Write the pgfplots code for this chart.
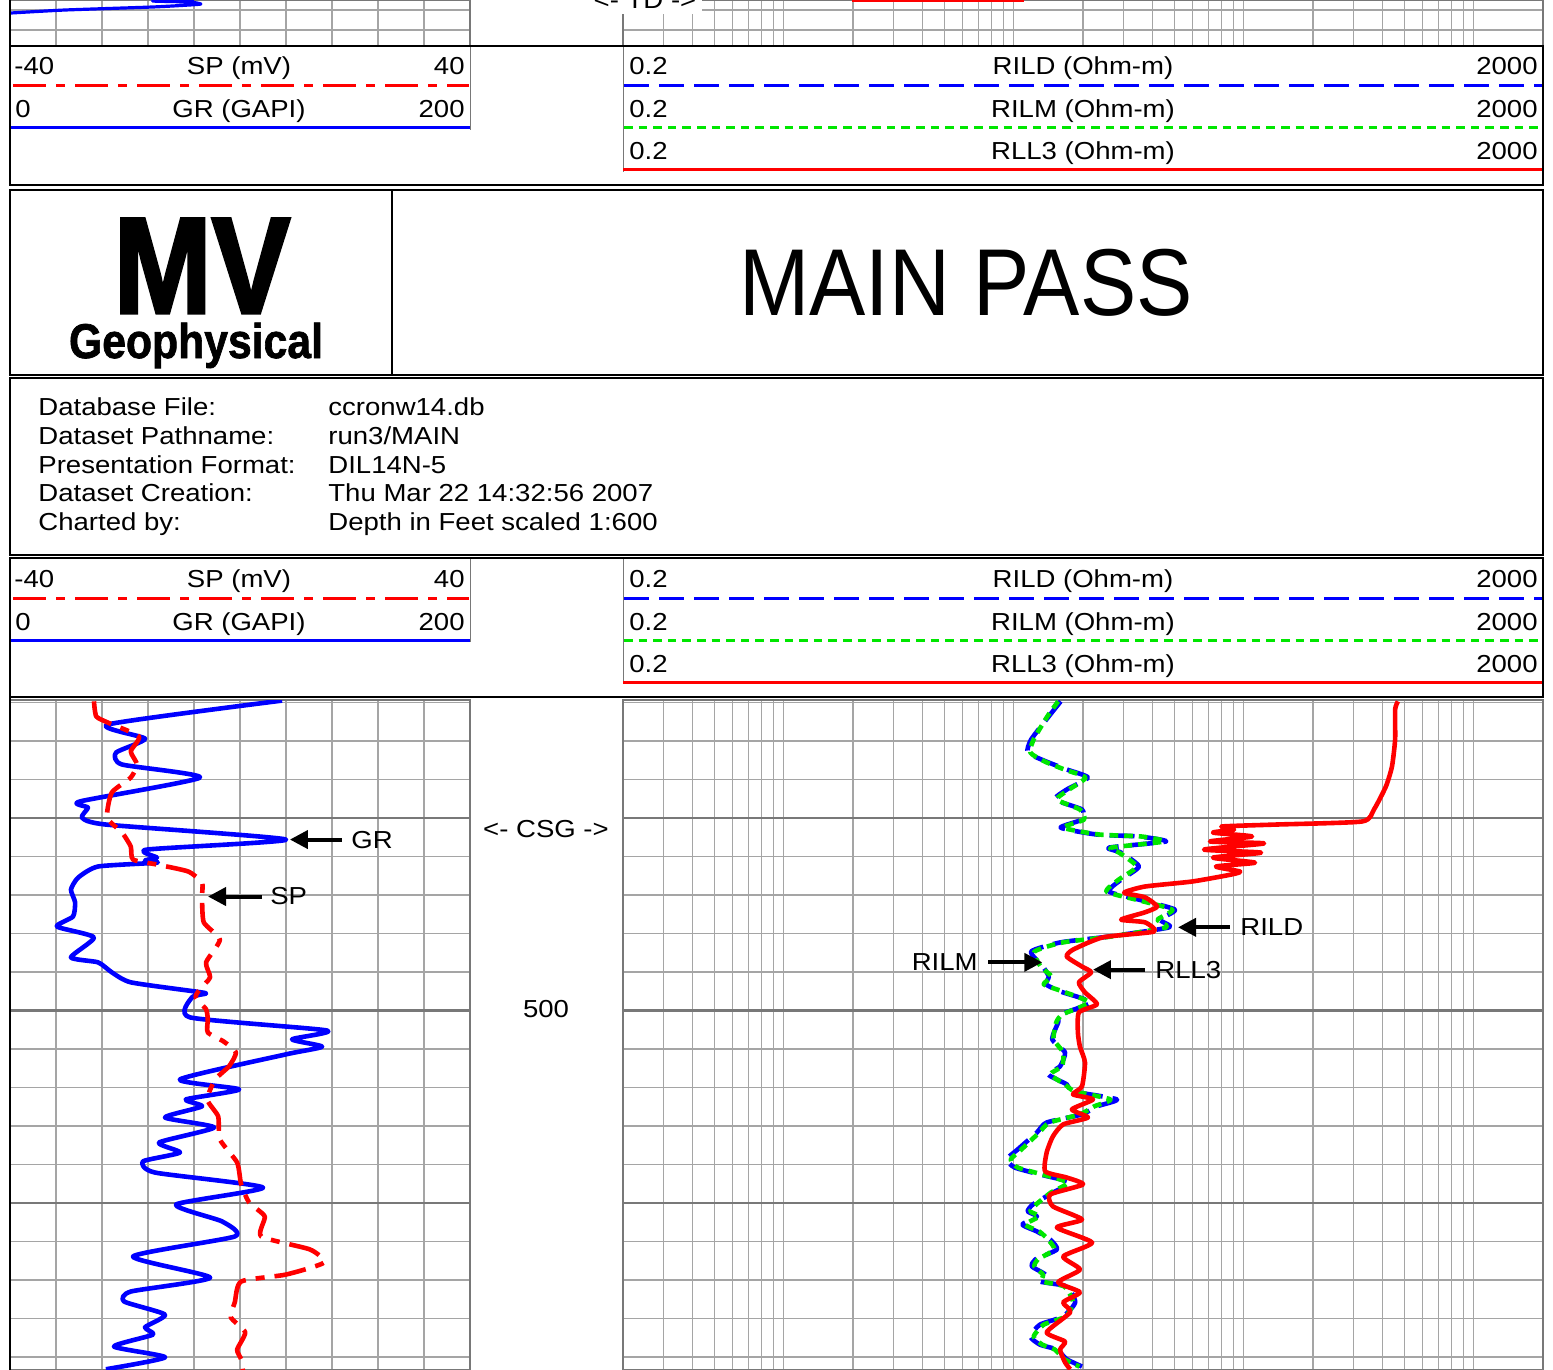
\documentclass[border=0pt]{standalone}
\usepackage{fontspec}
\setmainfont{Liberation Sans}
\newfontfamily\logofont{Liberation Sans}[BoldFeatures={FakeBold=2.5}]
\newfontfamily\logofontb{Liberation Sans}[BoldFeatures={FakeBold=1.5}]
\usepackage{graphicx}
\usepackage{pgfplots}
\pgfplotsset{compat=1.18}
\usetikzlibrary{arrows.meta}

\definecolor{logred}{RGB}{255,0,0}
\definecolor{logblue}{RGB}{0,0,255}
\definecolor{loggreen}{RGB}{0,230,0}
\definecolor{gridlt}{RGB}{165,165,165}
\definecolor{griddk}{RGB}{120,120,120}

\newcommand\T[1]{\scalebox{1.12}[1]{#1}}

\pgfplotsset{
  trackbase/.style={scale only axis, anchor=north west, y dir=reverse,
    xticklabels={}, yticklabels={}, major tick length=0pt, minor tick length=0pt,
    grid=major, major grid style={draw=gridlt, line width=0.6pt},
    axis line style={draw=griddk, line width=0.9pt}},
  lintrack/.style={trackbase, width=230pt, xmin=0, xmax=200, xtick={0,20,...,200}},
  logtrack/.style={trackbase, width=460pt, xmin=0.2, xmax=2000,
    xtick={0.2,0.3,0.4,0.5,0.6,0.7,0.8,0.9,1,2,3,4,5,6,7,8,9,10,20,30,40,50,60,70,80,90,
      100,200,300,400,500,600,700,800,900,1000,2000}},
  mainpass/.style={height=335pt, ymin=419.35, ymax=593.4, ytick={420,430,...,590},
    extra y ticks={450,500,550}, extra y tick labels={},
    extra y tick style={major grid style={draw=griddk, line width=1.1pt}}},
  cv/.style={mark=none, line width=2.3pt, line join=round, smooth, tension=0.35},
}
\tikzset{arr/.style={line width=2pt, -{Triangle[length=9pt,width=9pt]}}}

% header strip with the curve scales, top edge at y = #1 (pixels)
\newcommand\hdr[1]{%
  \draw[griddk, line width=0.5pt] (470,#1) -- (470,#1+84);
  \draw[griddk, line width=0.5pt] (623,#1) -- (623,#1+126);
  \draw[logred, line width=1.5pt, dash pattern=on 16.5pt off 5pt on 4.5pt off 5pt] (13,#1+40) -- (469,#1+40);
  \draw[logblue, line width=1.5pt] (10,#1+82) -- (470,#1+82);
  \draw[logblue, line width=1.5pt, dash pattern=on 12.5pt off 5pt] (624,#1+40) -- (1543,#1+40);
  \draw[loggreen, line width=1.5pt, dash pattern=on 4.3pt off 3pt] (624,#1+82) -- (1543,#1+82);
  \draw[logred, line width=1.5pt] (623,#1+124) -- (1543,#1+124);
  \node[anchor=base west] at (14,#1+29) {\T{-40}};
  \node[anchor=base] at (239,#1+29) {\T{SP (mV)}};
  \node[anchor=base east] at (465,#1+29) {\T{40}};
  \node[anchor=base west] at (15,#1+72) {\T{0}};
  \node[anchor=base] at (239,#1+72) {\T{GR (GAPI)}};
  \node[anchor=base east] at (465,#1+72) {\T{200}};
  \foreach \r/\lab in {29/RILD,72/RILM,114/RLL3}{%
    \node[anchor=base west] at (629,#1+\r) {\T{0.2}};
    \node[anchor=base] at (1083,#1+\r) {\T{\lab\ (Ohm-m)}};
    \node[anchor=base east] at (1538,#1+\r) {\T{2000}};}
  \draw[line width=1.2pt] (10,#1) rectangle (1543,#1+139);
}

\begin{document}
\begin{tikzpicture}[font=\fontsize{12.3pt}{14.5pt}\selectfont, every node/.style={inner sep=0pt}]
\path[use as bounding box] (0,0) rectangle (776.5pt,-685pt);
\clip (0,0) rectangle (776.5pt,-685pt);

% ---- end of the previous section (top strip)
\begin{axis}[lintrack, at={(5pt,0pt)}, height=23pt, ymin=0, ymax=46, ytick={10,30}]
\addplot[cv, draw=logblue, line width=1.6pt] coordinates {(80,-1)(62,1)(78,2)(83,4)(78,5)(62,7)(24,10)(0.4,13)};
\end{axis}
\begin{axis}[xmode=log, logtrack, at={(311.5pt,0pt)}, height=23pt, ymin=0, ymax=46, ytick={10,30}]
\addplot[mark=none, draw=logred, line width=1.5pt] coordinates {(1.98,0.2)(11.1,0.2)};
\end{axis}

% ---- main pass, left track: GR and SP
\begin{axis}[lintrack, mainpass, at={(5pt,-350pt)}]
\addplot[cv, draw=logblue] coordinates {
(118.3,419.5)(42.6,425.7)(58.7,429.4)(46.1,433.0)(48.7,436.1)(82.6,439.5)(30.4,445.7)
(33.9,447.3)(31.3,449.9)(41.7,451.7)(120.0,455.6)(59.6,458.2)(63.9,460.3)(58.7,461.0)
(63.9,461.6)(38.3,462.6)(29.6,465.5)(26.5,468.6)(28.3,471.9)(27.4,475.6)(20.4,478.2)
(36.5,481.0)(26.5,486.2)(38.3,487.5)(44.3,490.1)(52.6,492.7)(80.9,495.1)(85.2,495.6)
(79.1,496.6)(78.3,501.8)(137.8,505.2)(122.6,507.5)(135.7,509.4)(120.0,511.4)(73.9,517.9)
(99.6,520.5)(76.5,523.1)(83.5,524.9)(67.4,527.8)(88.7,530.4)(64.8,534.3)(73.9,536.9)
(57.8,539.2)(63.0,542.1)(110.0,546.0)(72.2,550.4)(92.2,554.8)(97.8,558.7)(53.5,563.9)
(87.0,569.4)(52.6,573.0)(49.6,575.6)(67.4,579.0)(58.7,582.3)(62.2,584.2)(45.2,587.3)
(67.4,590.1)(41.7,593.2)};
\draw[arr] (axis cs:144.3,455.6) -- (axis cs:121.7,455.6);
\node[anchor=west] at (axis cs:148.3,455.6) {\T{GR}};
\draw[arr] (axis cs:109.6,470.4) -- (axis cs:86.1,470.4);
\node[anchor=west] at (axis cs:113.0,470.4) {\T{SP}};
\end{axis}
\begin{axis}[scale only axis, anchor=north west, at={(5pt,-350pt)}, width=230pt, height=335pt,
  y dir=reverse, xmin=-40, xmax=40, ymin=419.35, ymax=593.4, hide axis, grid=none]
\addplot[cv, draw=logred, dash pattern=on 16pt off 5pt on 4.5pt off 5pt] coordinates {
(-25.4,419.7)(-25.0,423.6)(-23.0,425.2)(-17.6,428.8)(-19.0,432.7)(-17.9,436.1)(-19.0,439.5)
(-22.3,443.4)(-23.1,449.9)(-20.5,453.8)(-19.0,457.4)(-18.6,460.8)(-14.4,462.1)(-9.0,463.9)
(-6.6,466.8)(-6.6,470.4)(-6.3,477.1)(-3.5,481.6)(-5.9,487.5)(-5.2,491.4)(-7.0,494.5)
(-7.7,496.6)(-5.9,499.7)(-5.6,502.3)(-5.6,505.7)(-2.8,508.1)(-0.7,510.9)(-1.9,514.5)
(-4.3,517.9)(-5.7,523.1)(-3.8,527.5)(-3.5,533.5)(-0.5,539.5)(0.2,545.2)(1.6,549.9)
(4.3,553.5)(3.7,558.7)(12.2,562.1)(14.6,565.5)(8.0,568.6)(0.2,570.4)(-0.9,575.8)
(-1.6,579.7)(0.9,583.6)(-0.5,588.1)(0.2,590.6)(0.5,593.4)};
\end{axis}

% ---- main pass, right track: resistivities
\begin{axis}[xmode=log, logtrack, mainpass, at={(311.5pt,-350pt)}]
\addplot[cv, draw=logblue, dash pattern=on 12.5pt off 5pt] coordinates {
(16.0,419.7)(14.2,423.6)(11.9,429.6)(11.5,433.0)(13.8,435.3)(17.0,437.4)(21.0,439.5)
(17.0,442.6)(15.1,445.2)(19.8,447.8)(19.8,450.4)(16.0,452.5)(23.0,454.3)(35.0,454.8)
(45.9,456.1)(25.9,457.7)(29.3,459.0)(35.0,462.6)(29.3,466.0)(25.9,469.1)(35.0,471.2)
(50.2,473.8)(43.2,476.4)(47.3,478.4)(25.9,480.8)(16.0,482.3)(11.9,484.7)(13.4,488.6)
(14.2,491.2)(13.8,493.2)(16.0,495.1)(21.7,497.9)(16.0,501.0)(15.6,503.1)(14.7,507.5)
(16.7,510.9)(15.9,514.5)(14.1,516.6)(17.0,519.2)(18.1,521.0)(28.1,523.1)(23.0,524.9)
(19.8,527.0)(13.9,529.1)(12.6,531.7)(10.4,536.1)(9.3,538.7)(10.1,540.8)(13.0,542.6)
(17.6,544.7)(14.8,547.3)(12.1,550.4)(11.5,552.2)(12.6,553.5)(10.9,555.6)(12.6,557.4)
(14.4,559.5)(15.4,562.1)(12.4,564.7)(12.0,566.5)(13.7,568.6)(13.0,570.4)(17.0,571.7)
(18.5,575.8)(16.4,579.5)(13.0,581.6)(11.8,584.7)(13.0,586.8)(15.4,588.1)(17.0,590.6)
(19.8,592.5)};
\addplot[cv, draw=loggreen, dash pattern=on 4.3pt off 3pt] coordinates {
(15.6,419.7)(14.0,423.6)(12.2,429.6)(11.8,433.0)(13.6,435.3)(16.6,437.4)(20.5,439.5)
(17.4,442.6)(15.4,445.2)(19.4,447.8)(20.2,450.4)(16.4,452.5)(23.6,454.3)(35.8,454.8)
(45.0,456.1)(26.5,457.7)(28.7,459.0)(34.2,462.6)(28.6,466.0)(25.3,469.1)(34.0,471.2)
(48.9,473.8)(42.2,476.4)(46.0,478.4)(26.4,480.8)(16.4,482.3)(12.3,484.7)(13.1,488.6)
(14.6,491.2)(13.5,493.2)(16.4,495.1)(21.2,497.9)(16.3,501.0)(15.3,503.1)(14.9,507.5)
(16.4,510.9)(16.2,514.5)(14.4,516.6)(16.7,519.2)(18.4,521.0)(26.3,523.1)(22.4,524.9)
(19.4,527.0)(14.3,529.1)(12.9,531.7)(10.8,536.1)(9.7,538.7)(10.4,540.8)(13.3,542.6)
(17.2,544.7)(14.5,547.3)(12.5,550.4)(11.8,552.2)(12.9,553.5)(11.2,555.6)(12.9,557.4)
(14.1,559.5)(15.0,562.1)(12.7,564.7)(12.3,566.5)(13.4,568.6)(13.3,570.4)(16.6,571.7)
(18.1,575.8)(16.8,579.5)(13.5,581.6)(12.2,584.7)(13.3,586.8)(15.1,588.1)(16.6,590.6)
(19.3,592.5)};
\addplot[cv, draw=logred] coordinates {
(468,419.7)(455,421.8)(455,429.6)(441,436.6)(415,441.8)(368,447.8)(327,450.9)(138,451.7)
(80.4,452.2)(90.7,453.0)(73.5,453.8)(108.6,454.8)(71.3,456.1)(122.5,456.6)(67.2,458.2)
(118.8,459.0)(73.5,460.3)(111.9,461.6)(75.7,462.6)(96.3,463.9)(88.0,464.7)(59.6,466.5)
(37.2,467.8)(30.2,469.4)(37.2,470.6)(42.0,473.0)(37.2,474.5)(29.3,476.4)(37.2,477.1)
(40.7,479.5)(24.4,481.0)(18.1,484.2)(17.0,486.0)(19.8,488.6)(21.7,490.1)(19.2,492.7)
(20.4,495.3)(23.0,498.4)(19.2,500.5)(19.0,505.7)(19.4,509.4)(20.4,513.5)(19.8,519.7)
(18.1,521.8)(22.1,523.1)(17.9,525.7)(21.0,527.8)(16.4,529.6)(14.8,532.7)(13.9,536.9)
(13.7,541.8)(17.0,543.4)(20.0,545.2)(14.4,547.8)(14.8,550.9)(19.8,554.3)(15.4,556.4)
(21.9,560.3)(16.4,563.9)(19.4,567.3)(15.6,570.6)(19.4,573.2)(16.4,575.8)(17.6,578.4)
(13.9,583.6)(16.7,586.0)(15.9,588.1)(16.7,591.4)(17.6,593.2)};
\draw[arr] (axis cs:87.1,478.4) -- (axis cs:51.8,478.4);
\node[anchor=west] at (axis cs:96.3,478.4) {\T{RILD}};
\draw[arr] (axis cs:37.2,489.4) -- (axis cs:22.1,489.4);
\node[anchor=west] at (axis cs:41.1,489.4) {\T{RLL3}};
\draw[arr] (axis cs:7.73,487.5) -- (axis cs:13.3,487.5);
\node[anchor=east] at (axis cs:6.99,487.5) {\T{RILM}};
\end{axis}

% ---- frames, title blocks and text (pixel units)
\begin{scope}[x=0.5pt, y=-0.5pt]
\node[anchor=base, fill=white, inner xsep=3pt, inner ysep=2.5pt] at (645,9) {\T{<- TD ->}};
\draw[line width=1.2pt] (10,0) -- (10,46);
\draw[line width=1.2pt] (10,697) -- (10,1372);

\hdr{46}
\hdr{558}

% logo / title block
\draw[line width=1.2pt] (10,190) rectangle (1543,375);
\draw[line width=0.6pt] (392,190) -- (392,375);
\node[anchor=base] at (202,313) {\scalebox{0.86}[1]{\fontsize{68.4pt}{70pt}\logofont\bfseries MV}};
\node[anchor=base] at (196,358) {\scalebox{0.875}[1]{\fontsize{24.4pt}{26pt}\logofontb\bfseries Geophysical}};
\node[anchor=base] at (966,315) {\scalebox{0.888}[1]{\fontsize{47.5pt}{50pt}\selectfont MAIN PASS}};

% dataset information
\draw[line width=1.2pt] (10,378) rectangle (1543,555);
\foreach \yy/\a/\b in {415/Database File:/ccronw14.db, 444/Dataset Pathname:/run3\slash MAIN,
    473/Presentation Format:/DIL14N-5, 501/Dataset Creation:/Thu Mar 22 14:32:56 2007,
    530/Charted by:/Depth in Feet scaled 1:600}{
  \node[anchor=base west] at (38,\yy) {\T{\a}};
  \node[anchor=base west] at (328,\yy) {\T{\b}};}

% depth column
\node[anchor=base] at (546,837) {\T{<- CSG ->}};
\node[anchor=base] at (546,1017) {\T{500}};
\end{scope}
\end{tikzpicture}
\end{document}
